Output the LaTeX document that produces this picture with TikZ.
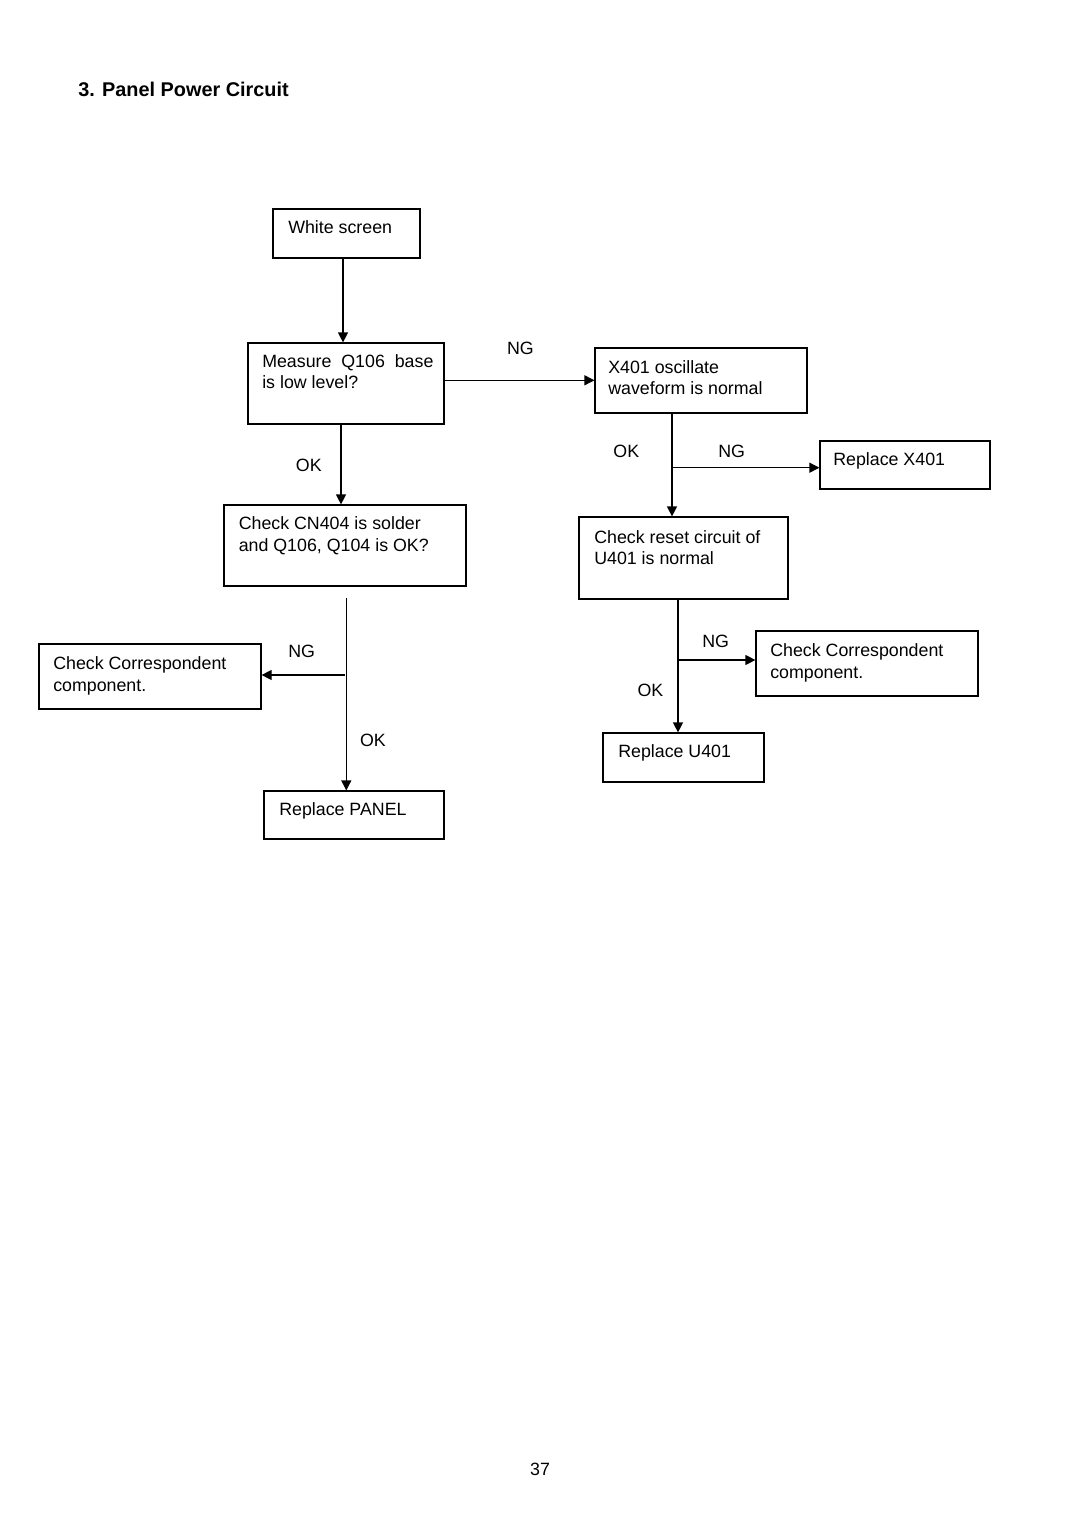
\documentclass[tikz,border=0pt]{standalone}
\usepackage{fontspec}
\setmainfont{Liberation Sans}
\usetikzlibrary{arrows.meta,calc}
\begin{document}
\begin{tikzpicture}[x=0.75pt,y=-0.75pt,
  bx/.style n args={2}{draw, line width=0.9pt, rectangle, inner sep=0pt,
     minimum width=#1*0.75pt, minimum height=#2*0.75pt},
  txt/.style={anchor=base west, inner sep=0pt, font=\fontsize{13.35}{16.3}\selectfont},
  lbl/.style={inner sep=0pt, font=\fontsize{13.35}{16.3}\selectfont},
  arr/.style={line width=0.9pt, -{Triangle[length=7.5pt,width=7.5pt]}},
  ln/.style={line width=0.9pt}]
\path[use as bounding box] (0,0) rectangle (1080,1528);

% title
\node[anchor=base west, inner sep=0pt, font=\fontsize{14.9}{18}\selectfont\bfseries] (title) at (78,96.7) {3. Panel Power Circuit};

% boxes
\node[bx={147}{49}] (ws)  at (346.5,233.5) {};
\node[bx={196}{81}] (mq)  at (346,383.5) {};
\node[bx={212}{65}] (xo)  at (701,380.5) {};
\node[bx={170}{48}] (rx)  at (905,465) {};
\node[bx={242}{81}] (cn)  at (345,545.5) {};
\node[bx={209}{82}] (cr)  at (683.5,558) {};
\node[bx={222}{65}] (ccl) at (150,676.5) {};
\node[bx={222}{65}] (ccr) at (867,663.5) {};
\node[bx={161}{49}] (ru)  at (683.5,757.5) {};
\node[bx={180}{48}] (rp)  at (354,815) {};

% box texts
\node[txt] (ws-t)  at (288,233) {White screen};
\node[txt] (mq-t)  at (262,367) {\begin{tabular}[t]{@{}l@{}}Measure~ Q106~ base\\is low level?\end{tabular}};
\node[txt] (xo-t)  at (608,373) {\begin{tabular}[t]{@{}l@{}}X401 oscillate\\waveform is normal\end{tabular}};
\node[txt] (rx-t)  at (833,465) {Replace X401};
\node[txt] (cn-t)  at (238.5,529.5) {\begin{tabular}[t]{@{}l@{}}Check CN404 is solder\\and Q106, Q104 is OK?\end{tabular}};
\node[txt] (cr-t)  at (594,543) {\begin{tabular}[t]{@{}l@{}}Check reset circuit of\\U401 is normal\end{tabular}};
\node[txt] (ccl-t) at (53,669.3) {\begin{tabular}[t]{@{}l@{}}Check Correspondent\\component.\end{tabular}};
\node[txt] (ccr-t) at (770,656.7) {\begin{tabular}[t]{@{}l@{}}Check Correspondent\\component.\end{tabular}};
\node[txt] (ru-t)  at (618,757) {Replace U401};
\node[txt] (rp-t)  at (279,815) {Replace PANEL};

% junction coordinates
\coordinate (x1) at (343,0);
\coordinate (y2) at (0,380.3);
\coordinate (x3) at (341,0);
\coordinate (x4) at (672,0);
\coordinate (j4) at (672,467.7);
\coordinate (s5) at (346.3,597.5);
\coordinate (j5) at (345,675);
\coordinate (x6) at (678,0);
\coordinate (j6) at (678,660);

% connectors
\draw[arr] (ws.south -| x1) -- (mq.north -| x1);
\draw[arr] (mq.east |- y2) -- (xo.west |- y2);
\draw[arr] (mq.south -| x3) -- (cn.north -| x3);
\draw[arr] (xo.south -| x4) -- (cr.north -| x4);
\draw[arr] (j4) -- (rx.west |- j4);
\draw[arr] (s5) -- (rp.north -| s5);
\draw[arr] (j5) -- (ccl.east |- j5);
\draw[arr] (cr.south -| x6) -- (ru.north -| x6);
\draw[arr] (j6) -- (ccr.west |- j6);

% labels
\node[lbl] (ng1) at (520.4,348.3) {NG};
\node[lbl] (ok1) at (308.8,465) {OK};
\node[lbl] (ok2) at (626.3,451.7) {OK};
\node[lbl] (ng2) at (731.6,451.7) {NG};
\node[lbl] (ng3) at (301.7,651.7) {NG};
\node[lbl] (ok3) at (373,740) {OK};
\node[lbl] (ng4) at (715.7,641.7) {NG};
\node[lbl] (ok4) at (650.5,690.7) {OK};

% page number
\node[anchor=base, inner sep=0pt, font=\fontsize{13.35}{16.3}\selectfont] (pg) at (540,1475) {37};
\end{tikzpicture}
\end{document}
